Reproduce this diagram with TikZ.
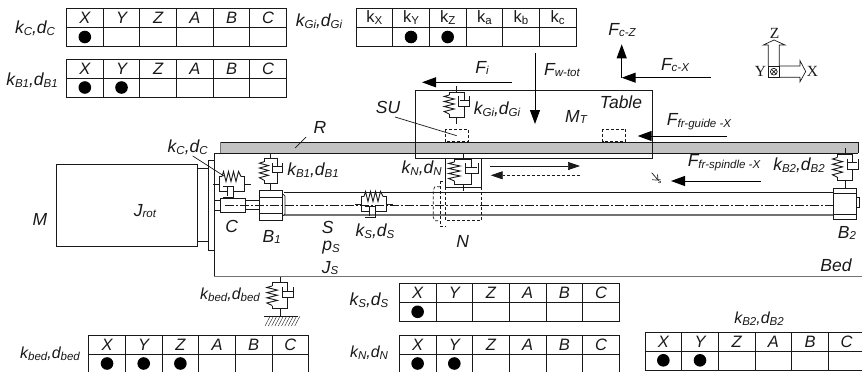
\documentclass[tikz,border=0pt]{standalone}
\usepackage{fontspec}
\setmainfont{Liberation Sans}
\newfontfamily\serifaxis{Liberation Serif}
\usetikzlibrary{arrows.meta,patterns}
\definecolor{railgrey}{gray}{0.76}
\definecolor{linegrey}{gray}{0.45}
\definecolor{inkc}{gray}{0.1}
\tikzset{
  lbl/.style={inner sep=0pt,font=\fontsize{17.5}{19}\selectfont\itshape,text=inkc},
  lblsm/.style={inner sep=0pt,font=\fontsize{16}{18}\selectfont\itshape,text=inkc},
  hdr/.style={inner sep=0pt,font=\fontsize{16.5}{18}\selectfont\itshape,text=inkc},
  hdrup/.style={inner sep=0pt,font=\fontsize{16.5}{18}\selectfont,text=inkc},
  ax/.style={inner sep=0pt,font=\fontsize{15.5}{17}\selectfont\serifaxis,text=inkc},
  ln/.style={line width=0.9pt,draw=inkc},
  thin ln/.style={line width=0.7pt,draw=inkc},
  dash ln/.style={line width=0.7pt,draw=inkc,dash pattern=on 3pt off 2pt},
  force/.style={line width=1pt,draw=black,-{Triangle[length=14pt,width=10pt]}},
  centre/.style={line width=0.6pt,draw=inkc,dash pattern=on 9pt off 2pt on 2pt off 2pt},
}
\newcommand{\sub}[2]{#1{\fontsize{11.5}{11.5}\selectfont\raisebox{-0.3ex}{#2}}}
\newcommand{\kd}[1]{\sub{k}{#1},\sub{d}{#1}}
\newcommand{\dofgrid}[7]{%
  \begin{scope}[shift={(#1,#2)}]
    \draw[ln] (0,0) rectangle (220,#4);
    \draw[ln] (0,#3) -- (220,#3);
    \foreach \i in {1,...,5} \draw[ln] ({\i*36.67},0) -- ({\i*36.67},#4);
    \foreach \h [count=\n from 0] in {#6}
      \node[#7] (#5h\n) at ({(\n+0.5)*36.67},{#3/2}) {\h};
  \end{scope}}
\newcommand{\dofdot}[4]{\fill[black] ({#1+(#4+0.5)*36.67},{#2+#3}) circle (6.3);}
\newcommand{\spdamp}[3]{%
  \begin{scope}[shift={#1},x={#2},y={#3},line join=miter]
    \draw[ln] (0,0) -- (0,6);
    \draw[ln] (-7.5,9) -- (-7.5,6) -- (7.5,6) -- (7.5,14);
    \draw[ln] (3,14) -- (12,14);
    \draw[ln] (2,10) -- (2,20) -- (13,20) -- (13,10);
    \draw[ln] (7.5,20) -- (7.5,31) -- (-7.5,31) -- (-7.5,28);
    \draw[ln] (0,31) -- (0,38);
    \draw[ln] (-7.5,9) -- (-12.5,10.5) -- (-2.5,13) -- (-12.5,15.5) -- (-2.5,18) -- (-12.5,20.5) -- (-2.5,23) -- (-12.5,25.5) -- (-7.5,28);
  \end{scope}}
\begin{document}
\begin{tikzpicture}[x=1pt,y=-1pt]
\useasboundingbox (0,0) rectangle (862,372);
\begin{scope}
\clip (0,0) rectangle (862,372);
% Tables
\dofgrid{66.5}{8}{19.5}{38.5}{ta}{X,Y,Z,A,B,C}{hdr}
\dofdot{66.5}{8}{29}{0}
\dofgrid{66.5}{59}{19}{38}{tb}{X,Y,Z,A,B,C}{hdr}
\dofdot{66.5}{59}{28.5}{0}\dofdot{66.5}{59}{28.5}{1}
\dofgrid{356}{8}{19.5}{38.5}{tc}{\sub{k}{X},\sub{k}{Y},\sub{k}{Z},\sub{k}{a},\sub{k}{b},\sub{k}{c}}{hdrup}
\dofdot{356}{8}{29}{1}\dofdot{356}{8}{29}{2}
\dofgrid{88.7}{335}{19}{38}{td}{X,Y,Z,A,B,C}{hdr}
\dofdot{88.7}{335}{28.5}{0}\dofdot{88.7}{335}{28.5}{1}\dofdot{88.7}{335}{28.5}{2}
\dofgrid{399.3}{283.3}{19}{38.4}{te}{X,Y,Z,A,B,C}{hdr}
\dofdot{399.3}{283.3}{28.5}{0}
\dofgrid{399.3}{335}{19}{38}{tf}{X,Y,Z,A,B,C}{hdr}
\dofdot{399.3}{335}{28.5}{0}\dofdot{399.3}{335}{28.5}{1}
\dofgrid{645}{332.3}{18.7}{37.7}{tg}{X,Y,Z,A,B,C}{hdr}
\dofdot{645}{332.3}{28}{0}\dofdot{645}{332.3}{28}{1}
% Rail
\fill[railgrey] (220,142) rectangle (858,153);
\draw[ln] (220,142) -- (858,142) -- (858,153);
\draw[thin ln,draw=linegrey] (220,153) -- (220,142);
% Bed
\draw[ln] (214,153) -- (858,153);
\draw[ln] (214,153) -- (214,276.7);
\draw[line width=1.4pt,draw=linegrey] (214,276.7) -- (862,276.7);
% Table
\draw[ln] (415.7,90.7) rectangle (652.3,158.3);
\draw[dash ln] (445,129) rectangle (468.3,141.7);
\draw[dash ln] (602.7,129) rectangle (625.7,141.7);
% Motor
\draw[ln] (56,164) rectangle (197.3,246);
\draw[thin ln] (197.3,168) -- (208.3,168) (197.3,241.7) -- (208.3,241.7);
\draw[ln] (208.3,160) rectangle (214,250);
% Spindle
\draw[ln] (284,192.3) -- (833,192.3);
\draw[line width=1.2pt,draw=linegrey] (284,215) -- (833,215);
\draw[thin ln] (282.7,194) -- (285,196) -- (285,214) -- (282.7,216);
% Coupling
\draw[thin ln] (214.3,200) rectangle (220,210);
\draw[thin ln,fill=white] (220,198) rectangle (245,212);
\draw[thin ln] (245,200.7) -- (259,200.7) (245,209) -- (259,209);
% B1
\draw[ln,fill=white] (259.3,190) rectangle (282.3,220.7);
\draw[thin ln] (259.3,197) -- (282.3,197) (259.3,213) -- (282.3,213);
% B2
\draw[ln,fill=white] (833,188) rectangle (856,219);
\draw[thin ln] (833,193) -- (856,193) (833,214) -- (856,214);
\draw[thin ln] (856,197) -- (859,197) -- (859,207) -- (856,207);
% Centre line
\draw[centre] (225,205) -- (834,205);
% Spring-dampers
\spdamp{(456.7,86)}{(1pt,0pt)}{(0pt,-1pt)}
\spdamp{(270.7,153)}{(0.9pt,0pt)}{(0pt,-0.97pt)}
\spdamp{(845,148)}{(1pt,0pt)}{(0pt,-1.05pt)}
\spdamp{(463,153)}{(1.15pt,0pt)}{(0pt,-1pt)}
\spdamp{(280,276.7)}{(1.05pt,0pt)}{(0pt,-1.03pt)}
\spdamp{(213,184)}{(0pt,-1pt)}{(1pt,0pt)}
\spdamp{(355,204)}{(0pt,-1pt)}{(1pt,0pt)}
% Ground
\draw[ln] (264,316) -- (297.7,316);
\foreach \g in {0,3.3,...,30} \draw[line width=0.4pt,draw=inkc] (265+\g,326) -- (270+\g,316.5);
% Nut
\draw[ln] (445.7,158.3) rectangle (481.3,187.3);
\draw[dash ln] (445.7,187.3) -- (445.7,220.7) -- (481.3,220.7) -- (481.3,187.3);
\draw[dash ln] (440,181) -- (445.7,181) (440,226) -- (445.7,226) (440,181) -- (440,226);
\draw[dash ln] (440,186.7) -- (435,186.7) -- (433.3,190) -- (433.3,217.5) -- (435,220.7) -- (440,220.7);
% Force arrows
\coordinate (fiS) at (511.7,82.3); \coordinate (fiE) at (422,82.3);
\draw[force] (fiS) -- (fiE);
\coordinate (fwS) at (535,53); \coordinate (fwE) at (535,124);
\draw[force] (fwS) -- (fwE);
\coordinate (fcO) at (621.7,77.7); \coordinate (fcZ) at (621.7,44.3); \coordinate (fcX) at (710.7,77.7);
\draw[force] (fcO) -- (fcZ);
\draw[force] (fcX) -- (fcO);
\coordinate (fgS) at (727,136); \coordinate (fgE) at (637.7,136);
\draw[force] (fgS) -- (fgE);
\coordinate (fsS) at (761,181); \coordinate (fsE) at (671,181);
\draw[force] (fsS) -- (fsE);
\coordinate (naS) at (490,166); \coordinate (naE) at (580,166);
\draw[thin ln,-{Triangle[length=12pt,width=8pt]}] (naS) -- (naE);
\coordinate (nbS) at (580,175.3); \coordinate (nbE) at (490.7,175.3);
\draw[dash ln,-{Triangle[length=12pt,width=8pt]}] (nbS) -- (nbE);
% Small s mark
\draw[thin ln] (651.7,172.7) -- (658,180);
\draw[thin ln] (652,179.8) -- (658,180) -- (657.5,174.5);
\node[inner sep=0pt,font=\fontsize{7}{7}\selectfont] (smark) at (659.5,182) {s};
% Axes
\draw[thin ln] (768.3,66) -- (768.3,45) -- (763.3,45) -- (774,40) -- (785,45) -- (779.3,45) -- (779.3,66);
\draw[thin ln] (779.3,66) -- (800,66) -- (800,60.7) -- (805.7,71.5) -- (800,81.7) -- (800,77.3) -- (779.3,77.3);
\draw[ln] (768.3,66) rectangle (779.3,77.3);
\draw[thin ln] (773.8,71.7) circle (3.4);
\draw[thin ln] (771.4,69.3) -- (776.2,74.1) (771.4,74.1) -- (776.2,69.3);
\node[ax] (axZ) at (774.5,33) {Z};
\node[ax] (axY) at (760.5,71.5) {Y};
\node[ax] (axX) at (812.5,71.5) {X};
% Labels
\node[lbl] (l1) at (35,28) {\kd{C}};
\node[lbl] (l2) at (32,80) {\kd{B1}};
\node[lbl] (l3) at (319,21) {\kd{Gi}};
\node[lbl] (l4) at (497,109) {\kd{Gi}};
\node[lbl] (l5) at (187.7,147) {\kd{C}};
\node[lbl] (l6) at (313,170) {\kd{B1}};
\node[lbl] (l7) at (421.7,168) {\kd{N}};
\node[lbl] (l8) at (375,231.7) {\kd{S}};
\node[lbl] (l9) at (799,165) {\kd{B2}};
\node[lblsm] (l10) at (230,295) {\kd{bed}};
\node[lblsm] (l11) at (50,354) {\kd{bed}};
\node[lbl] (l12) at (369,300.7) {\kd{S}};
\node[lblsm] (l13) at (369,353) {\kd{N}};
\node[lblsm] (l14) at (759,319) {\kd{B2}};
\node[lbl] (f1) at (482,68) {\sub{F}{i}};
\node[lbl] (f2) at (562,70) {\sub{F}{w-tot}};
\node[lbl] (f3) at (622,30) {\sub{F}{c-Z}};
\node[lbl] (f4) at (675,65) {\sub{F}{c-X}};
\node[lbl] (f5) at (699,122) {\sub{F}{fr-guide -X}};
\node[lbl] (f6) at (724,163) {\sub{F}{fr-spindle -X}};
\node[lbl] (tTable) at (621,102) {Table};
\node[lbl] (tMT) at (576,117) {\sub{M}{T}};
\node[lbl] (tSU) at (388,107) {SU};
\node[lbl] (tR) at (320,127) {R};
\node[lbl] (tM) at (40,219) {M};
\node[lbl] (tJ) at (145,211) {\sub{J}{rot}};
\node[lbl] (tC) at (231.7,226) {C};
\node[lbl] (tB1) at (271.7,237) {\sub{B}{1}};
\node[lbl] (tB2) at (847,233) {\sub{B}{2}};
\node[lbl] (tBed) at (836,265) {Bed};
\node[lbl] (tS) at (327.7,227) {S};
\node[lbl] (tp) at (331,248) {\sub{p}{S}};
\node[lbl] (tJs) at (330,268) {\sub{J}{S}};
\node[lbl] (tN) at (462.7,241.7) {N};
% Leaders
\coordinate (suEnd) at (456.7,135.7); \coordinate (suStart) at (395,117);
\draw[thin ln] (suStart) -- (suEnd);
\coordinate (rEnd) at (295,148); \coordinate (rStart) at (306,137);
\draw[thin ln] (rStart) -- (rEnd);
\coordinate (kcEnd) at (224,176); \coordinate (kcStart) at (192.7,156);
\draw[thin ln] (kcStart) -- (kcEnd);
\end{scope}
\end{tikzpicture}
\end{document}
